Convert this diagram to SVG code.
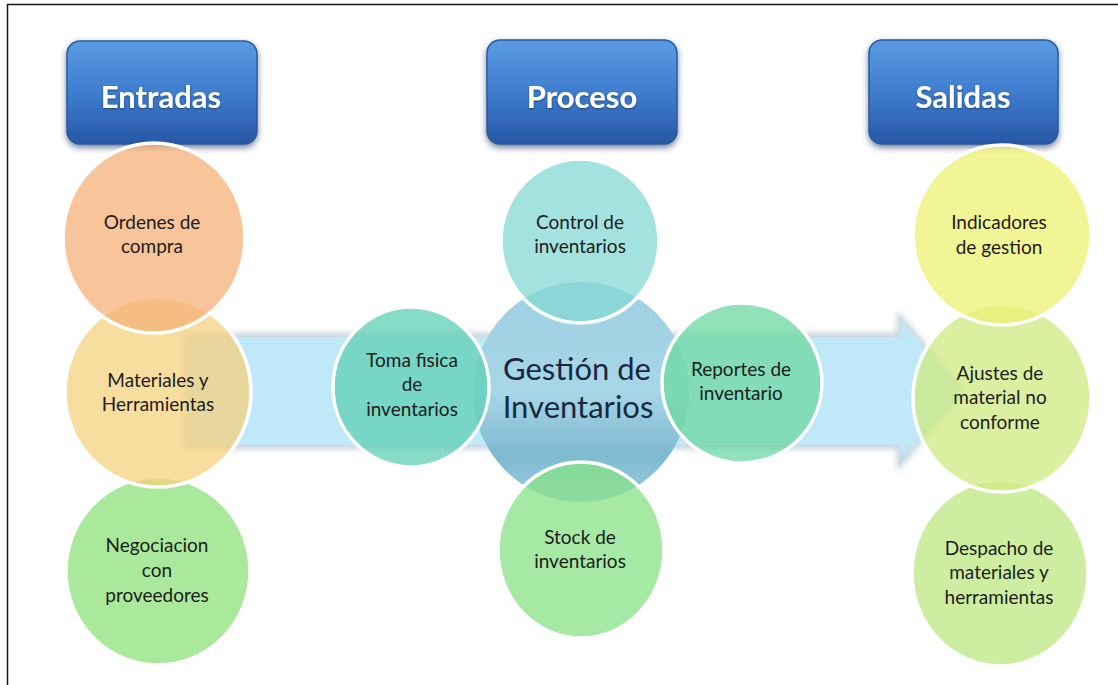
<svg xmlns="http://www.w3.org/2000/svg" width="1118" height="685" viewBox="0 0 1118 685">
<defs>
<style>
.hdr{fill:url(#gHdr);stroke:#2a5a9c;stroke-width:1.5;filter:url(#fShadow)}
.htxt{font-family:Lato,"Liberation Sans",sans-serif;font-weight:700;font-size:31px;fill:#ffffff;text-anchor:middle}
.c{stroke:#ffffff;stroke-width:3.5;fill-opacity:0.75}
.t{font-family:Lato,"Liberation Sans",sans-serif;font-size:19px;fill:#1c1c1c;text-anchor:middle}
.big{font-family:Lato,"Liberation Sans",sans-serif;font-size:31px;fill:#17283f;text-anchor:middle}
</style>
<linearGradient id="gHdr" x1="0" y1="0" x2="0" y2="1">
<stop offset="0" stop-color="#5b9be2"/>
<stop offset="0.5" stop-color="#3f7dcf"/>
<stop offset="1" stop-color="#2857a6"/>
</linearGradient>
<linearGradient id="gCenter" x1="0" y1="0" x2="0" y2="1">
<stop offset="0" stop-color="#9fd0e2"/>
<stop offset="0.5" stop-color="#a6d6e7"/>
<stop offset="0.78" stop-color="#7fb9d0"/>
<stop offset="1" stop-color="#9accde"/>
</linearGradient>
<linearGradient id="gArrow" x1="0" y1="0" x2="0" y2="1">
<stop offset="0" stop-color="#c6dde8"/>
<stop offset="0.15" stop-color="#bfe8f8"/>
<stop offset="0.85" stop-color="#bfe8f8"/>
<stop offset="1" stop-color="#c2d6e0"/>
</linearGradient>
<filter id="fShadow" x="-10%" y="-10%" width="120%" height="135%">
<feGaussianBlur in="SourceAlpha" stdDeviation="3"/>
<feOffset dy="3" result="b"/>
<feFlood flood-color="#1a2e55" flood-opacity="0.6"/>
<feComposite in2="b" operator="in"/>
<feMerge><feMergeNode/><feMergeNode in="SourceGraphic"/></feMerge>
</filter>
<filter id="fSoft" x="-5%" y="-20%" width="110%" height="140%">
<feGaussianBlur stdDeviation="3"/>
</filter>
<filter id="fTxt" x="-10%" y="-20%" width="120%" height="150%">
<feGaussianBlur in="SourceAlpha" stdDeviation="1"/>
<feOffset dy="1" result="b"/>
<feFlood flood-color="#10254a" flood-opacity="0.6"/>
<feComposite in2="b" operator="in"/>
<feMerge><feMergeNode/><feMergeNode in="SourceGraphic"/></feMerge>
</filter>
</defs>

<rect x="0" y="0" width="1118" height="685" fill="#ffffff"/>
<path d="M7.5 700 V4.5 H1118" fill="none" stroke="#1a1a1a" stroke-width="1.5"/>

<g id="connectors">
<path d="M185 333 H897 V310 L965 391 L897 472 V449 H185 Z" fill="#b9c8d0" filter="url(#fSoft)" opacity="0.8"/>
<path d="M188 337 H899 V316 L960 391 L899 466 V445 H188 Z" fill="url(#gArrow)"/>
</g>

<g id="hdr-entradas">
<rect class="hdr" x="67" y="41" width="190" height="103" rx="13"/>
<text class="htxt" x="161" y="108" filter="url(#fTxt)">Entradas</text>
</g>
<g id="hdr-proceso">
<rect class="hdr" x="487" y="40" width="190" height="104" rx="13"/>
<text class="htxt" x="582" y="108" filter="url(#fTxt)">Proceso</text>
</g>
<g id="hdr-salidas">
<rect class="hdr" x="869" y="40" width="189" height="104" rx="13"/>
<text class="htxt" x="963" y="108" filter="url(#fTxt)">Salidas</text>
</g>

<g id="negociacion">
<ellipse class="c" cx="158" cy="571" rx="92" ry="94" fill="#8ee07a"/>
<text class="t" x="157" y="552">Negociacion</text>
<text class="t" x="157" y="577">con</text>
<text class="t" x="157" y="602">proveedores</text>
</g>
<g id="materiales">
<ellipse class="c" cx="158" cy="392" rx="93" ry="95" fill="#f4d27e"/>
<text class="t" x="158" y="387">Materiales y</text>
<text class="t" x="158" y="411">Herramientas</text>
</g>
<g id="ordenes">
<ellipse class="c" cx="154" cy="238" rx="91" ry="95" fill="#f6b27a"/>
<text class="t" x="152" y="229">Ordenes de</text>
<text class="t" x="152" y="253">compra</text>
</g>

<g id="gestion">
<ellipse cx="581" cy="392" rx="108" ry="110" fill="url(#gCenter)"/>
<text class="big" x="577" y="380">Gestión de</text>
<text class="big" x="578" y="418">Inventarios</text>
</g>
<g id="control">
<ellipse class="c" cx="580" cy="241" rx="79" ry="82" fill="#84d8d3"/>
<text class="t" x="580" y="229">Control de</text>
<text class="t" x="580" y="253">inventarios</text>
</g>
<g id="toma">
<ellipse class="c" cx="411" cy="387" rx="78" ry="80" fill="#5fd0b6"/>
<text class="t" x="412" y="367">Toma fisica</text>
<text class="t" x="412" y="391">de</text>
<text class="t" x="412" y="416">inventarios</text>
</g>
<g id="reportes">
<ellipse class="c" cx="742" cy="383" rx="80" ry="80" fill="#6cd8a2"/>
<text class="t" x="741" y="376">Reportes de</text>
<text class="t" x="741" y="400">inventario</text>
</g>
<g id="stock">
<ellipse class="c" cx="581" cy="550" rx="83" ry="88" fill="#87e287"/>
<text class="t" x="580" y="544">Stock de</text>
<text class="t" x="580" y="568">inventarios</text>
</g>

<g id="despacho">
<ellipse class="c" cx="1000" cy="573" rx="88" ry="93" fill="#bce880"/>
<text class="t" x="999" y="555">Despacho de</text>
<text class="t" x="999" y="579">materiales y</text>
<text class="t" x="999" y="604">herramientas</text>
</g>
<g id="ajustes">
<ellipse class="c" cx="1002" cy="398" rx="89" ry="94" fill="#ceeb80"/>
<text class="t" x="1000" y="380">Ajustes de</text>
<text class="t" x="1000" y="404">material no</text>
<text class="t" x="1000" y="429">conforme</text>
</g>
<g id="indicadores">
<ellipse class="c" cx="1002" cy="235" rx="89" ry="90" fill="#eef273"/>
<text class="t" x="999" y="229">Indicadores</text>
<text class="t" x="999" y="254">de gestion</text>
</g>
</svg>
